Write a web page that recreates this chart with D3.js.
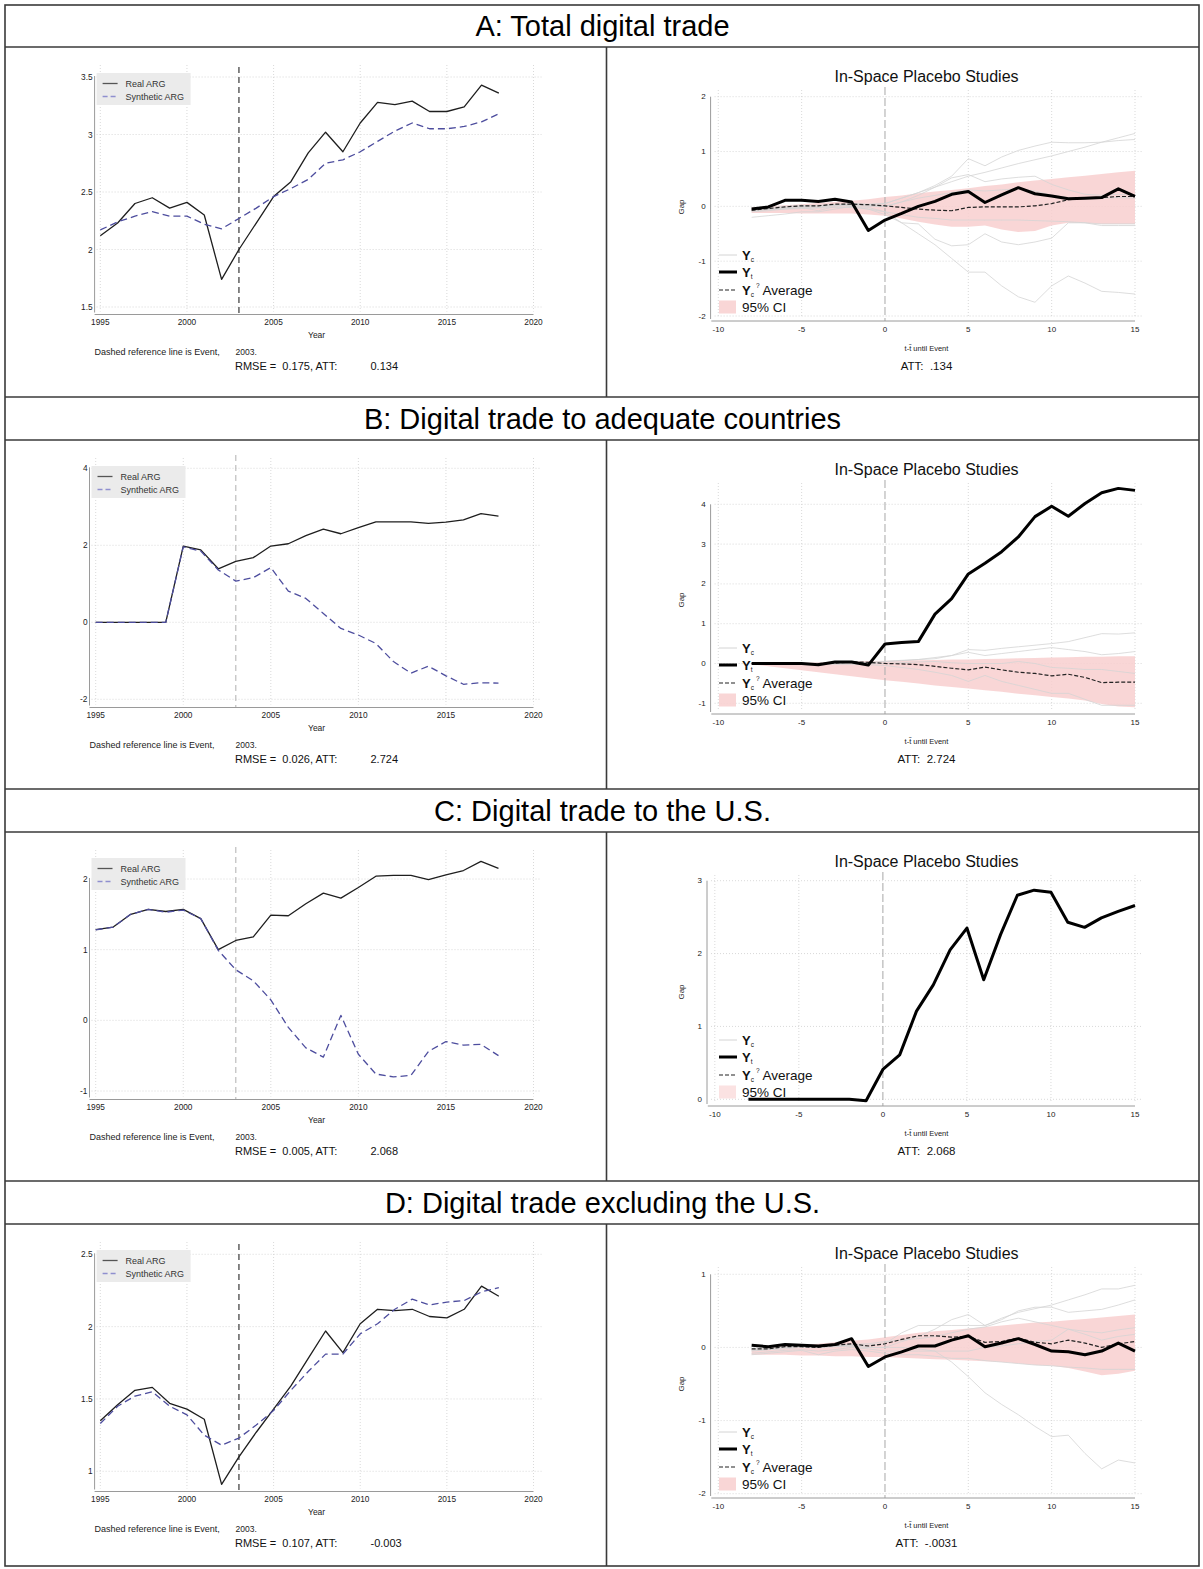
<!DOCTYPE html>
<html>
<head>
<meta charset="utf-8">
<script src="https://cdn.jsdelivr.net/npm/d3@7"></script>
<style>
  html, body { margin: 0; padding: 0; background: #fff; }
  svg { display: block; font-family: "Liberation Sans", Arial, sans-serif; }
</style>
</head>
<body>
<div id="chart"></div>
<script>
// ---------------- DATA ----------------
const panelTitles = [
  "A: Total digital trade",
  "B: Digital trade to adequate countries",
  "C: Digital trade to the U.S.",
  "D: Digital trade excluding the U.S."
];
const years = [1995,1996,1997,1998,1999,2000,2001,2002,2003,2004,2005,2006,2007,2008,2009,2010,2011,2012,2013,2014,2015,2016,2017,2018];
const yearTicks = [1995,2000,2005,2010,2015,2020];
const eventYear = 2003;

const realA  = [2.12,2.23,2.40,2.45,2.36,2.41,2.30,1.74,2.00,2.23,2.46,2.59,2.84,3.02,2.85,3.10,3.28,3.26,3.29,3.20,3.20,3.24,3.43,3.36];
const synthA = [2.17,2.24,2.29,2.33,2.29,2.29,2.22,2.18,2.27,2.36,2.46,2.53,2.61,2.75,2.78,2.85,2.94,3.03,3.10,3.05,3.05,3.07,3.11,3.18];
const realB  = [0,0,0,0,0,1.98,1.88,1.39,1.58,1.68,1.98,2.04,2.25,2.42,2.30,2.46,2.61,2.61,2.61,2.57,2.60,2.66,2.82,2.76];
const synthB = [0,0,0,0,0,1.96,1.85,1.36,1.07,1.16,1.42,0.81,0.62,0.23,-0.16,-0.33,-0.55,-1.02,-1.32,-1.14,-1.39,-1.61,-1.57,-1.58];
const realC  = [1.285,1.32,1.50,1.57,1.54,1.57,1.44,1.00,1.13,1.18,1.49,1.48,1.65,1.80,1.73,1.88,2.04,2.05,2.05,1.99,2.06,2.12,2.25,2.15];
const synthC = [1.28,1.32,1.50,1.57,1.53,1.56,1.44,0.99,0.715,0.56,0.29,-0.10,-0.39,-0.52,0.07,-0.48,-0.76,-0.80,-0.78,-0.44,-0.30,-0.35,-0.34,-0.50];
const realD  = [1.35,1.46,1.56,1.58,1.47,1.43,1.36,0.91,1.10,1.27,1.43,1.59,1.78,1.97,1.82,2.02,2.12,2.11,2.12,2.07,2.06,2.12,2.28,2.21];
const synthD = [1.33,1.45,1.52,1.55,1.45,1.39,1.25,1.18,1.23,1.32,1.42,1.56,1.69,1.81,1.81,1.95,2.02,2.12,2.19,2.15,2.17,2.18,2.24,2.27];

const leftYTicksA = [1.5,2,2.5,3,3.5];
const leftYTicksB = [-2,0,2,4];
const leftYTicksC = [-1,0,1,2];
const leftYTicksD = [1,1.5,2,2.5];

const rmseLabels = ["0.175","0.026","0.005","0.107"];
const attLeftLabels = ["0.134","2.724","2.068","-0.003"];
const attRightLabels = [".134","2.724","2.068","-.0031"];

const eventTimes = [-8,-7,-6,-5,-4,-3,-2,-1,0,1,2,3,4,5,6,7,8,9,10,11,12,13,14,15];
const tTicks = [-10,-5,0,5,10,15];

const rightYTicksA = [-2,-1,0,1,2];
const rightYTicksB = [-1,0,1,2,3,4];
const rightYTicksC = [0,1,2,3];
const rightYTicksD = [-2,-1,0,1];

const gapA = [-0.05,-0.01,0.11,0.11,0.09,0.13,0.08,-0.44,-0.25,-0.13,0.0,0.09,0.22,0.27,0.07,0.21,0.34,0.23,0.19,0.14,0.15,0.16,0.32,0.18];
const avgA = [-0.07,-0.04,-0.01,0.01,0.01,0.04,0.04,0.03,0.01,-0.02,-0.05,-0.07,-0.08,-0.02,-0.01,-0.01,-0.01,0.01,0.05,0.12,0.15,0.16,0.18,0.18];
const ciHiA = [-0.02,0.0,0.02,0.04,0.06,0.08,0.10,0.13,0.17,0.20,0.24,0.27,0.30,0.33,0.37,0.40,0.44,0.47,0.50,0.53,0.56,0.59,0.62,0.65];
const ciLoA = [-0.12,-0.12,-0.12,-0.13,-0.13,-0.13,-0.13,-0.15,-0.17,-0.22,-0.28,-0.33,-0.37,-0.37,-0.35,-0.42,-0.47,-0.45,-0.35,-0.30,-0.30,-0.32,-0.32,-0.32];
const placeboA = [
  [-0.05,-0.04,-0.02,0.0,0.02,0.03,0.05,0.04,0.05,0.15,0.25,0.38,0.55,0.87,0.74,0.9,1.02,1.1,1.17,1.16,1.16,1.17,1.2,1.22],
  [-0.08,-0.06,-0.03,0.0,-0.02,0.02,0.04,0.03,0.05,0.15,0.25,0.35,0.45,0.55,0.62,0.7,0.78,0.85,0.92,1.0,1.08,1.17,1.25,1.33],
  [-0.1,-0.08,-0.05,-0.02,-0.08,0.0,0.02,0.0,0.0,0.08,0.2,0.35,0.52,0.58,0.45,0.5,0.53,0.55,0.4,0.3,0.22,0.2,0.22,0.2],
  [-0.2,-0.17,-0.14,-0.1,-0.1,-0.05,0.0,-0.05,-0.15,-0.3,-0.32,-0.6,-0.72,-0.7,-0.5,-0.65,-0.7,-0.65,-0.58,-0.3,-0.3,-0.35,-0.35,-0.35],
  [-0.06,-0.05,-0.04,-0.02,-0.02,0.02,0.0,-0.02,-0.1,-0.3,-0.5,-0.7,-0.95,-1.2,-1.2,-1.45,-1.65,-1.75,-1.45,-1.27,-1.4,-1.55,-1.57,-1.6],
  [-0.04,-0.02,0.0,0.02,0.0,0.02,0.03,0.02,0.0,0.08,0.15,0.2,0.25,0.3,0.28,0.3,0.32,0.28,0.2,0.16,0.15,0.15,0.16,0.15],
  [-0.08,-0.06,-0.05,-0.04,-0.03,-0.02,-0.02,-0.05,-0.1,-0.15,-0.2,-0.22,-0.25,-0.25,-0.25,-0.25,-0.25,-0.26,-0.27,-0.28,-0.3,-0.32,-0.32,-0.32]
];

const gapB = [0.0,0.0,0.0,0.0,-0.03,0.04,0.04,-0.04,0.49,0.53,0.55,1.24,1.63,2.25,2.52,2.81,3.18,3.69,3.95,3.70,4.02,4.29,4.40,4.35];
const avgB = [0.0,0.0,0.0,0.0,0.0,0.01,0.04,0.03,0.0,-0.01,-0.03,-0.07,-0.12,-0.16,-0.09,-0.16,-0.22,-0.25,-0.31,-0.27,-0.35,-0.48,-0.47,-0.47];
const ciHiB = [0.01,0.01,0.02,0.02,0.03,0.04,0.05,0.06,0.07,0.08,0.08,0.09,0.10,0.10,0.11,0.12,0.13,0.14,0.15,0.16,0.17,0.17,0.18,0.18];
const ciLoB = [-0.02,-0.07,-0.12,-0.17,-0.22,-0.27,-0.32,-0.37,-0.42,-0.46,-0.5,-0.55,-0.59,-0.63,-0.67,-0.71,-0.76,-0.8,-0.84,-0.88,-0.93,-1.02,-1.08,-1.1];
const placeboB = [
  [0,0,0,0,0.01,0.02,0.03,0.03,0.05,0.08,0.1,0.15,0.2,0.35,0.33,0.38,0.42,0.46,0.5,0.55,0.65,0.75,0.74,0.77],
  [0,0,0,0,0,0.01,0.02,0.02,0.05,0.07,0.1,0.12,0.2,0.28,0.2,0.25,0.3,0.35,0.4,0.35,0.3,0.22,0.25,0.3],
  [0,0,0,0,0,0,0.01,0.01,0.0,0.02,0.04,0.05,0.02,0.0,0.0,0.0,0.05,0.0,-0.1,-0.12,-0.15,-0.15,-0.2,-0.25],
  [0,0,0,0,-0.01,-0.02,-0.02,-0.03,-0.05,-0.1,-0.15,-0.22,-0.3,-0.45,-0.3,-0.45,-0.55,-0.65,-0.75,-0.75,-0.9,-1.05,-1.05,-1.05]
];

const gapC = [0,0,0,0,0,0,0,-0.02,0.41,0.61,1.21,1.57,2.05,2.35,1.64,2.26,2.80,2.87,2.84,2.43,2.36,2.49,2.58,2.66];
const avgC = [];
const ciHiC = [];
const ciLoC = [];
const placeboC = [];

const gapD = [0.03,0.01,0.04,0.03,0.02,0.04,0.12,-0.26,-0.13,-0.06,0.02,0.02,0.10,0.16,0.01,0.06,0.12,0.04,-0.05,-0.06,-0.10,-0.05,0.06,-0.05];
const avgD = [-0.02,-0.02,0.01,0.01,0.0,0.03,0.05,0.02,0.05,0.11,0.16,0.16,0.14,0.15,0.07,0.08,0.13,0.07,0.05,0.10,0.06,0.0,0.05,0.08];
const ciHiD = [-0.02,0.0,0.02,0.03,0.05,0.07,0.09,0.11,0.14,0.17,0.2,0.22,0.24,0.26,0.28,0.3,0.32,0.34,0.35,0.37,0.39,0.41,0.43,0.45];
const ciLoD = [-0.1,-0.1,-0.1,-0.11,-0.11,-0.12,-0.12,-0.13,-0.13,-0.14,-0.15,-0.16,-0.17,-0.18,-0.19,-0.2,-0.22,-0.24,-0.25,-0.28,-0.33,-0.38,-0.36,-0.32];
const placeboD = [
  [-0.02,-0.01,0.0,0.01,0.0,0.02,0.03,0.03,0.05,0.2,0.3,0.3,0.3,0.3,0.3,0.4,0.48,0.53,0.58,0.65,0.72,0.8,0.8,0.85],
  [-0.05,-0.03,-0.02,0.0,0.0,0.01,0.02,0.0,0.0,0.08,0.15,0.25,0.38,0.45,0.3,0.38,0.5,0.55,0.55,0.48,0.5,0.52,0.58,0.65],
  [-0.04,-0.03,0.0,0.02,0.02,0.03,0.04,0.05,0.08,0.1,0.12,0.15,0.2,0.25,0.28,0.35,0.4,0.35,0.3,0.25,0.22,0.2,0.24,0.27],
  [-0.08,-0.06,-0.04,-0.03,-0.05,-0.03,0.0,-0.02,-0.05,-0.05,-0.05,-0.05,-0.05,-0.05,0.0,0.02,0.05,0.08,0.1,0.25,0.18,0.1,0.15,0.18],
  [-0.03,-0.02,0.0,0.02,0.0,0.02,0.02,0.0,0.0,0.0,-0.02,-0.05,-0.2,-0.4,-0.62,-0.78,-0.92,-1.08,-1.22,-1.2,-1.45,-1.66,-1.54,-1.58],
  [-0.1,-0.08,-0.06,-0.04,-0.1,-0.05,-0.03,-0.05,-0.08,-0.1,-0.1,-0.12,-0.15,-0.15,-0.18,-0.2,-0.22,-0.24,-0.25,-0.27,-0.28,-0.3,-0.3,-0.3]
];

// ---------------- LAYOUT ----------------
const W = 1203, H = 1569;
const tableLeft = 5, tableRight = 1199, divX = 606.5;
const rowTitleTop = [5, 397, 789, 1181];
const rowPanelTop = [47, 440, 832, 1224];
const tableBottom = 1566;

const leftCfg = [
  { real: realA, synth: synthA, ticks: leftYTicksA, dom: [1.5, 3.5], rng: [260, 30], axisX: 94.6, x0: 100.3, evDark: true },
  { real: realB, synth: synthB, ticks: leftYTicksB, dom: [-2, 4], rng: [259.3, 28.3], axisX: 89.5, x0: 95.7, evDark: false },
  { real: realC, synth: synthC, ticks: leftYTicksC, dom: [-1, 2], rng: [259, 47], axisX: 89.5, x0: 95.7, evDark: false },
  { real: realD, synth: synthD, ticks: leftYTicksD, dom: [1, 2.5], rng: [247.3, 30.3], axisX: 94.6, x0: 100.3, evDark: true }
];
const rightCfg = [
  { gap: gapA, avg: avgA, hi: ciHiA, lo: ciLoA, plac: placeboA, ticks: rightYTicksA, dom: [-2, 2], rng: [269, 49.7], axisX: 710.6, x0: 718.3 },
  { gap: gapB, avg: avgB, hi: ciHiB, lo: ciLoB, plac: placeboB, ticks: rightYTicksB, dom: [-1, 4], rng: [263.3, 64.3], axisX: 710.6, x0: 718.3 },
  { gap: gapC, avg: avgC, hi: ciHiC, lo: ciLoC, plac: placeboC, ticks: rightYTicksC, dom: [0, 3], rng: [267.3, 48.7], axisX: 707, x0: 714.8 },
  { gap: gapD, avg: avgD, hi: ciHiD, lo: ciLoD, plac: placeboD, ticks: rightYTicksD, dom: [-2, 1], rng: [269.7, 50.3], axisX: 710.6, x0: 718.3 }
];

const svg = d3.select("#chart").append("svg").attr("width", W).attr("height", H);
svg.append("rect").attr("width", W).attr("height", H).attr("fill", "#fff");

const gridColor = "#cfcfcf";
const axisColor = "#9a9a9a";
const fmt = d => String(d);

// ---------------- TABLE TITLES ----------------
panelTitles.forEach((t, i) => {
  svg.append("text")
    .attr("x", W / 2 + 1).attr("y", (rowTitleTop[i] + rowPanelTop[i]) / 2)
    .attr("text-anchor", "middle").attr("dominant-baseline", "central")
    .attr("font-size", 29).attr("fill", "#000").text(t);
});

// ---------------- LEFT PANELS ----------------
leftCfg.forEach((c, i) => {
  const top = rowPanelTop[i];
  const g = svg.append("g").attr("transform", `translate(0,${top})`);
  const x = d3.scaleLinear().domain([1995, 2020]).range([c.x0, 533.5]);
  const y = d3.scaleLinear().domain(c.dom).range(c.rng);
  const axisY = 267.5;

  // grid
  g.selectAll(".hg").data(c.ticks).join("line")
    .attr("x1", c.axisX + 2).attr("x2", x(2020) + 8)
    .attr("y1", d => y(d)).attr("y2", d => y(d))
    .attr("stroke", gridColor).attr("stroke-width", 0.8).attr("stroke-dasharray", "1,2");
  g.selectAll(".vg").data(yearTicks).join("line")
    .attr("x1", d => x(d)).attr("x2", d => x(d))
    .attr("y1", 18).attr("y2", axisY - 3)
    .attr("stroke", gridColor).attr("stroke-width", 0.8).attr("stroke-dasharray", "1,2");

  // legend box
  g.append("rect").attr("x", c.axisX + 2).attr("y", 26).attr("width", 94).attr("height", 32).attr("fill", "#ebebeb");
  g.append("line").attr("x1", c.axisX + 8).attr("x2", c.axisX + 23).attr("y1", 36.5).attr("y2", 36.5)
    .attr("stroke", "#555").attr("stroke-width", 1.3);
  g.append("text").attr("x", c.axisX + 31).attr("y", 36.5).attr("dominant-baseline", "central")
    .attr("font-size", 9).attr("fill", "#333").text("Real ARG");
  g.append("line").attr("x1", c.axisX + 8).attr("x2", c.axisX + 23).attr("y1", 49.5).attr("y2", 49.5)
    .attr("stroke", "#8f8fcf").attr("stroke-width", 1.3).attr("stroke-dasharray", "5,3");
  g.append("text").attr("x", c.axisX + 31).attr("y", 49.5).attr("dominant-baseline", "central")
    .attr("font-size", 9).attr("fill", "#333").text("Synthetic ARG");

  // event line
  g.append("line").attr("x1", x(eventYear)).attr("x2", x(eventYear))
    .attr("y1", c.evDark ? 20 : 15).attr("y2", axisY)
    .attr("stroke", c.evDark ? "#6a6a6a" : "#b8b8b8")
    .attr("stroke-width", c.evDark ? 1.6 : 1.1).attr("stroke-dasharray", "6,4");

  // axes
  g.append("line").attr("x1", c.axisX).attr("x2", c.axisX)
    .attr("y1", y(d3.max(c.ticks)) - 1).attr("y2", axisY - 2)
    .attr("stroke", axisColor).attr("stroke-width", 1);
  g.append("line").attr("x1", c.axisX).attr("x2", x(2020))
    .attr("y1", axisY).attr("y2", axisY)
    .attr("stroke", axisColor).attr("stroke-width", 1);
  g.selectAll(".yt").data(c.ticks).join("text")
    .attr("x", c.axisX - 2).attr("y", d => y(d)).attr("text-anchor", "end")
    .attr("dominant-baseline", "central").attr("font-size", 8.3).attr("fill", "#222").text(fmt);
  g.selectAll(".xt").data(yearTicks).join("text")
    .attr("x", d => x(d)).attr("y", axisY + 7).attr("text-anchor", "middle")
    .attr("dominant-baseline", "central").attr("font-size", 8.3).attr("fill", "#222").text(fmt);
  g.append("text").attr("x", 316.6).attr("y", 288).attr("text-anchor", "middle")
    .attr("dominant-baseline", "central").attr("font-size", 8.5).attr("fill", "#222").text("Year");

  // notes
  g.append("text").attr("x", c.axisX).attr("y", 305).attr("dominant-baseline", "central")
    .attr("font-size", 9).attr("fill", "#222").text("Dashed reference line is Event,");
  g.append("text").attr("x", 235.5).attr("y", 305).attr("dominant-baseline", "central")
    .attr("font-size", 8.5).attr("fill", "#222").text(eventYear + ".");
  g.append("text").attr("x", 235).attr("y", 319).attr("dominant-baseline", "central")
    .attr("font-size", 11).attr("fill", "#111").attr("xml:space", "preserve").text("RMSE =  " + rmseLabels[i] + ", ATT:");
  g.append("text").attr("x", 370.5).attr("y", 319).attr("dominant-baseline", "central")
    .attr("font-size", 11).attr("fill", "#111").text(attLeftLabels[i]);

  // lines
  const line = d3.line().x((d, k) => x(years[k])).y(d => y(d));
  g.append("path").datum(c.real).attr("d", line).attr("fill", "none")
    .attr("stroke", "#1e1e1e").attr("stroke-width", 1.3).attr("stroke-linejoin", "round");
  g.append("path").datum(c.synth).attr("d", line).attr("fill", "none")
    .attr("stroke", "#4d4d9e").attr("stroke-width", 1.3).attr("stroke-dasharray", "7,4").attr("stroke-linejoin", "round");
});

// ---------------- RIGHT PANELS ----------------
rightCfg.forEach((c, i) => {
  const top = rowPanelTop[i];
  const g = svg.append("g").attr("transform", `translate(0,${top})`);
  const x = d3.scaleLinear().domain([-10, 15]).range([c.x0, 1135]);
  const y = d3.scaleLinear().domain(c.dom).range(c.rng);
  const axisY = 274;

  g.append("text").attr("x", 926.5).attr("y", 29).attr("text-anchor", "middle")
    .attr("dominant-baseline", "central").attr("font-size", 16).attr("fill", "#111").text("In-Space Placebo Studies");

  // grid
  g.selectAll(".hg").data(c.ticks).join("line")
    .attr("x1", c.axisX + 4).attr("x2", x(15) + 8)
    .attr("y1", d => y(d)).attr("y2", d => y(d))
    .attr("stroke", gridColor).attr("stroke-width", 0.8).attr("stroke-dasharray", "1,2");
  g.selectAll(".vg").data(tTicks.filter(d => d !== 0)).join("line")
    .attr("x1", d => x(d)).attr("x2", d => x(d))
    .attr("y1", 43).attr("y2", axisY - 3)
    .attr("stroke", gridColor).attr("stroke-width", 0.8).attr("stroke-dasharray", "1,2");

  // CI band
  if (c.hi.length) {
    const area = d3.area().x((d, k) => x(eventTimes[k])).y0((d, k) => y(c.lo[k])).y1(d => y(d));
    g.append("path").datum(c.hi).attr("d", area).attr("fill", "#f8cfcf").attr("fill-opacity", 0.85);
  }

  // event line
  g.append("line").attr("x1", x(0)).attr("x2", x(0)).attr("y1", 40).attr("y2", axisY)
    .attr("stroke", "#b0b0b0").attr("stroke-width", 1.1).attr("stroke-dasharray", "8,3");

  const line = d3.line().x((d, k) => x(eventTimes[k])).y(d => y(d));
  // placebo lines
  g.selectAll(".pl").data(c.plac).join("path").attr("d", line).attr("fill", "none")
    .attr("stroke", "#d4d4d4").attr("stroke-width", 0.8);
  // average
  if (c.avg.length) {
    g.append("path").datum(c.avg).attr("d", line).attr("fill", "none")
      .attr("stroke", "#222").attr("stroke-width", 1.2).attr("stroke-dasharray", "4,2");
  }
  // treated
  g.append("path").datum(c.gap).attr("d", line).attr("fill", "none")
    .attr("stroke", "#000").attr("stroke-width", 3).attr("stroke-linejoin", "round");

  // axes
  g.append("line").attr("x1", c.axisX).attr("x2", c.axisX)
    .attr("y1", y(d3.max(c.ticks))).attr("y2", axisY - 2)
    .attr("stroke", axisColor).attr("stroke-width", 1);
  g.append("line").attr("x1", x(-10) - 7).attr("x2", x(15))
    .attr("y1", axisY).attr("y2", axisY)
    .attr("stroke", axisColor).attr("stroke-width", 1);
  g.selectAll(".yt").data(c.ticks).join("text")
    .attr("x", c.axisX - 5).attr("y", d => y(d)).attr("text-anchor", "end")
    .attr("dominant-baseline", "central").attr("font-size", 8).attr("fill", "#222").text(fmt);
  g.selectAll(".xt").data(tTicks).join("text")
    .attr("x", d => x(d)).attr("y", axisY + 8).attr("text-anchor", "middle")
    .attr("dominant-baseline", "central").attr("font-size", 8).attr("fill", "#222").text(fmt);
  g.append("text").attr("x", 926.5).attr("y", 301).attr("text-anchor", "middle")
    .attr("dominant-baseline", "central").attr("font-size", 7.5).attr("fill", "#222").text("t-t\u0303 until Event");
  g.append("text").attr("x", 926.5).attr("y", 319).attr("text-anchor", "middle")
    .attr("dominant-baseline", "central").attr("font-size", 11.5).attr("fill", "#111")
    .attr("xml:space", "preserve").text("ATT:  " + attRightLabels[i]);
  g.append("text").attr("transform", `translate(681,160) rotate(-90)`).attr("text-anchor", "middle")
    .attr("dominant-baseline", "central").attr("font-size", 8).attr("fill", "#222").text("Gap");

  // legend
  const lx0 = 719, lx1 = 737, tx = 742;
  const rows = [208, 225, 243, 260];
  g.append("line").attr("x1", lx0).attr("x2", lx1).attr("y1", rows[0]).attr("y2", rows[0]).attr("stroke", "#d4d4d4").attr("stroke-width", 1);
  g.append("line").attr("x1", lx0).attr("x2", lx1).attr("y1", rows[1]).attr("y2", rows[1]).attr("stroke", "#000").attr("stroke-width", 3);
  g.append("line").attr("x1", lx0).attr("x2", lx1).attr("y1", rows[2]).attr("y2", rows[2]).attr("stroke", "#222").attr("stroke-width", 1.2).attr("stroke-dasharray", "4,2");
  g.append("rect").attr("x", lx0).attr("y", rows[3] - 6.5).attr("width", lx1 - lx0 - 1).attr("height", 13).attr("fill", "#f8cfcf").attr("fill-opacity", i === 2 ? 0.6 : 0.85);

  const t1 = g.append("text").attr("x", tx).attr("y", rows[0] + 4.5).attr("fill", "#111");
  t1.append("tspan").attr("font-size", 13).attr("font-weight", "bold").text("Y");
  t1.append("tspan").attr("font-size", 6.5).attr("dy", 2).text("c");
  const t2 = g.append("text").attr("x", tx).attr("y", rows[1] + 4.5).attr("fill", "#111");
  t2.append("tspan").attr("font-size", 13).attr("font-weight", "bold").text("Y");
  t2.append("tspan").attr("font-size", 6.5).attr("dy", 2).text("t");
  const t3 = g.append("text").attr("x", tx).attr("y", rows[2] + 4.5).attr("fill", "#111");
  t3.append("tspan").attr("font-size", 13).attr("font-weight", "bold").text("Y");
  t3.append("tspan").attr("font-size", 6.5).attr("dy", 2).text("c");
  t3.append("tspan").attr("font-size", 6.5).attr("dx", 2).attr("dy", -9).text("?");
  t3.append("tspan").attr("font-size", 13.5).attr("dx", 3).attr("dy", 7).text("Average");
  g.append("text").attr("x", tx).attr("y", rows[3] + 4.5).attr("font-size", 13.5).attr("fill", "#111").text("95% CI");
});

// ---------------- TABLE LINES ----------------
const bc = "#3a3a3a", bw = 1.6;
svg.append("rect").attr("x", tableLeft).attr("y", rowTitleTop[0]).attr("width", tableRight - tableLeft)
  .attr("height", tableBottom - rowTitleTop[0]).attr("fill", "none").attr("stroke", bc).attr("stroke-width", bw);
[...rowTitleTop.slice(1), ...rowPanelTop].forEach(yv => {
  svg.append("line").attr("x1", tableLeft).attr("x2", tableRight).attr("y1", yv).attr("y2", yv)
    .attr("stroke", bc).attr("stroke-width", bw);
});
rowPanelTop.forEach((yv, i) => {
  const yEnd = i < 3 ? rowTitleTop[i + 1] : tableBottom;
  svg.append("line").attr("x1", divX).attr("x2", divX).attr("y1", yv).attr("y2", yEnd)
    .attr("stroke", bc).attr("stroke-width", bw);
});
</script>
</body>
</html>
